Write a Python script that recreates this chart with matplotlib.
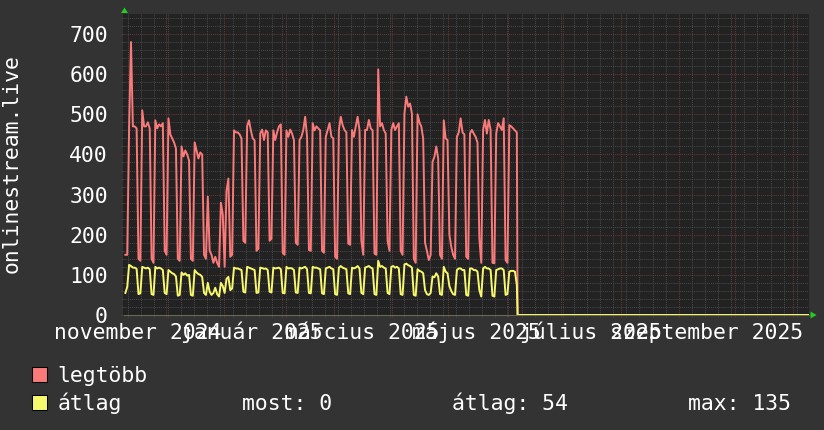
import matplotlib
matplotlib.use("Agg")
import matplotlib.pyplot as plt
import matplotlib.dates as mdates
from matplotlib.ticker import MultipleLocator, NullFormatter, FixedLocator
from matplotlib.patches import Polygon, Rectangle
import numpy as np
import pandas as pd

# ---------------- data ----------------
start_date = "2024-11-09 12:00"   # first daily value (Saturday), plotted mid-day

# legtöbb (daily maximum), one row per week Sat..Fri
max_values = [
    150, 150, 470, 680, 470, 470, 465,
    140, 135, 510, 470, 470, 480, 465,
    140, 130, 485, 465, 475, 470, 478,
    160, 150, 490, 450, 440, 430, 415,
    140, 135, 420, 395, 410, 400, 385,
    140, 135, 430, 410, 390, 405, 400,
    150, 140, 295, 160, 150, 130, 145,
    130, 120, 280, 250, 120, 310, 340,
    145, 150, 460, 455, 455, 450, 440,
    185, 180, 470, 485, 460, 440, 435,
    160, 165, 452, 462, 436, 460, 455,
    185, 190, 460, 436, 455, 470, 475,
    155, 150, 460, 444, 462, 452, 436,
    180, 175, 436, 444, 461, 494, 444,
    162, 160, 478, 460, 470, 465, 460,
    160, 155, 444, 461, 478, 444, 440,
    145, 140, 461, 494, 473, 461, 455,
    178, 175, 461, 444, 470, 494, 461,
    185, 150, 461, 461, 486, 465, 460,
    153, 150, 612, 470, 478, 461, 452,
    185, 160, 461, 478, 461, 470, 478,
    160, 150, 502, 544, 519, 527, 502,
    140, 130, 500, 480, 470, 440, 180,
    160, 137, 150, 382, 394, 420, 390,
    150, 140, 485, 440, 436, 200, 170,
    150, 140, 444, 455, 490, 455, 450,
    145, 140, 452, 461, 452, 444, 430,
    190, 130, 461, 486, 452, 486, 461,
    130, 129, 452, 478, 470, 461, 490,
    137, 130, 473, 470, 465, 460, 455,
]

# átlag (daily average), one row per week Sat..Fri
avg_values = [
    55, 70, 125, 122, 118, 118, 115,
    52, 54, 120, 118, 116, 118, 114,
    52, 50, 120, 116, 118, 116, 112,
    55, 52, 112, 108, 104, 102, 96,
    48, 50, 106, 100, 104, 98, 100,
    50, 48, 112, 106, 102, 100, 95,
    55, 50, 80, 58, 50, 55, 68,
    52, 46, 80, 72, 55, 90, 95,
    62, 66, 118, 116, 116, 114, 112,
    58, 56, 120, 118, 116, 114, 112,
    55, 56, 118, 117, 115, 116, 112,
    58, 56, 118, 116, 117, 118, 114,
    55, 54, 120, 116, 117, 116, 112,
    56, 55, 118, 116, 118, 120, 114,
    55, 54, 120, 118, 118, 116, 114,
    54, 52, 116, 118, 120, 116, 114,
    52, 50, 118, 122, 118, 116, 114,
    54, 52, 118, 116, 118, 122, 116,
    55, 52, 118, 120, 122, 118, 116,
    52, 50, 135, 120, 122, 118, 116,
    55, 52, 120, 122, 118, 120, 116,
    52, 50, 126, 128, 124, 122, 118,
    50, 48, 114, 110, 108, 104, 62,
    52, 50, 55, 96, 94, 104, 96,
    52, 50, 120, 108, 104, 72, 60,
    52, 50, 112, 116, 116, 112, 112,
    50, 48, 116, 116, 112, 112, 108,
    62, 46, 116, 120, 116, 116, 112,
    48, 46, 112, 114, 116, 116, 112,
    50, 52, 108, 110, 110, 108, 75,
]

# after the data stops, both series sit at zero
tail_dates = ["2025-06-06 22:00", "2025-11-10 00:00"]
tail_max = [0, 0]
tail_avg = [0, 0]

month_labels = ["november 2024", "január 2025", "március 2025",
                "május 2025", "július 2025", "szeptember 2025"]
month_label_dates = ["2024-11-16", "2025-01-16", "2025-03-16",
                     "2025-05-16", "2025-07-16", "2025-09-16"]
y_ticks = [0, 100, 200, 300, 400, 500, 600, 700]
y_title = "onlinestream.live"
legend_names = ["legtöbb", "átlag"]
stat_texts = ["most: 0", "átlag: 54", "max: 135"]

# ---------------- style ----------------
W, H = 824, 430
BG = "#333333"
PLOT_BG = "#222222"
RED = "#fa7a7a"
YEL = "#f8f86c"
GRID_MIN = "#474747"
GRID_MAJ = "#663636"
TXT = "#ffffff"
FONT = "DejaVu Sans Mono"
FS = 15.4

plt.rcParams["font.family"] = [FONT, "DejaVu Sans"]

fig = plt.figure(figsize=(W / 100, H / 100), dpi=100, facecolor=BG)

def fx(px):
    return px / W

def fy(py):
    return (H - py) / H

left_px, right_px, top_px, bottom_px = 123.5, 809.0, 14.0, 315.0
ax = fig.add_axes([fx(left_px), fy(bottom_px), fx(right_px - left_px), (bottom_px - top_px) / H])
ax.set_facecolor(PLOT_BG)

dates = pd.date_range(pd.Timestamp(start_date), periods=len(max_values), freq="D")
x_all = list(dates) + [pd.Timestamp(d) for d in tail_dates]
max_all = list(max_values) + tail_max
avg_all = list(avg_values) + tail_avg

ax.plot(x_all, max_all, color=RED, lw=1.4, zorder=3)
ax.plot(x_all, avg_all, color=YEL, lw=1.4, zorder=4)

ax.set_xlim(pd.Timestamp("2024-11-08 12:00"), pd.Timestamp("2025-11-09 12:00"))
ax.set_ylim(0, 750)

# grid
ax.xaxis.set_major_locator(mdates.MonthLocator(bymonthday=1))
ax.xaxis.set_minor_locator(mdates.WeekdayLocator(byweekday=mdates.MO))
ax.xaxis.set_major_formatter(NullFormatter())
ax.xaxis.set_minor_formatter(NullFormatter())
ax.yaxis.set_major_locator(FixedLocator(y_ticks))
ax.yaxis.set_minor_locator(MultipleLocator(20))
ax.set_yticklabels([str(v) for v in y_ticks])

ax.grid(which="minor", color=GRID_MIN, lw=0.75, linestyle=(0, (1, 1)))
ax.grid(which="major", color=GRID_MAJ, lw=0.75, linestyle=(0, (1, 1)))
ax.set_axisbelow(True)

ax.tick_params(axis="both", which="major", direction="out", length=1.6, width=0.75,
               color=GRID_MAJ)
ax.tick_params(axis="both", which="minor", direction="out", length=1.6, width=0.75,
               color=GRID_MIN)
ax.tick_params(axis="y", which="major", labelsize=FS, labelcolor=TXT, pad=9.6)

for s in ax.spines.values():
    s.set_visible(False)
ax.spines["bottom"].set_visible(True)
ax.spines["bottom"].set_color("#6a6a50")
ax.spines["bottom"].set_linewidth(0.75)
ax.spines["bottom"].set_zorder(5)

# x labels (centred mid-month, RRDtool style)
for lab, d in zip(month_labels, month_label_dates):
    ax.annotate(lab, xy=(mdates.date2num(pd.Timestamp(d)), 0),
                xycoords=("data", "axes fraction"),
                xytext=(0, -24 * 0.72), textcoords="offset points",
                ha="center", va="baseline", fontsize=FS, color=TXT,
                annotation_clip=False)

# y title
fig.text(fx(12), fy(164), y_title, rotation=90, ha="center", va="center",
         fontsize=FS, color=TXT)

# green arrows
green = "#22cc22"
fig.add_artist(Polygon([(fx(121.0), fy(13.0)), (fx(128.0), fy(13.0)), (fx(124.5), fy(7.5))],
                       closed=True, transform=fig.transFigure, facecolor=green,
                       edgecolor="none"))
fig.add_artist(Polygon([(fx(810.5), fy(311.5)), (fx(810.5), fy(318.5)), (fx(816.5), fy(315))],
                       closed=True, transform=fig.transFigure, facecolor=green,
                       edgecolor="none"))

# legend
for i, (name, col) in enumerate(zip(legend_names, [RED, YEL])):
    base = 381.5 + i * 28
    fig.add_artist(Rectangle((fx(32), fy(base)), fx(15), 15 / H,
                             transform=fig.transFigure, facecolor=col,
                             edgecolor="#000000", lw=0.75))
    fig.text(fx(57.5), fy(base), name, ha="left", va="baseline",
             fontsize=FS, color=TXT)

for txt, xp in zip(stat_texts, [241.5, 452.0, 688.0]):
    fig.text(fx(xp), fy(409.5), txt, ha="left", va="baseline", fontsize=FS, color=TXT)

fig.savefig("out.png", dpi=100, facecolor=BG)
